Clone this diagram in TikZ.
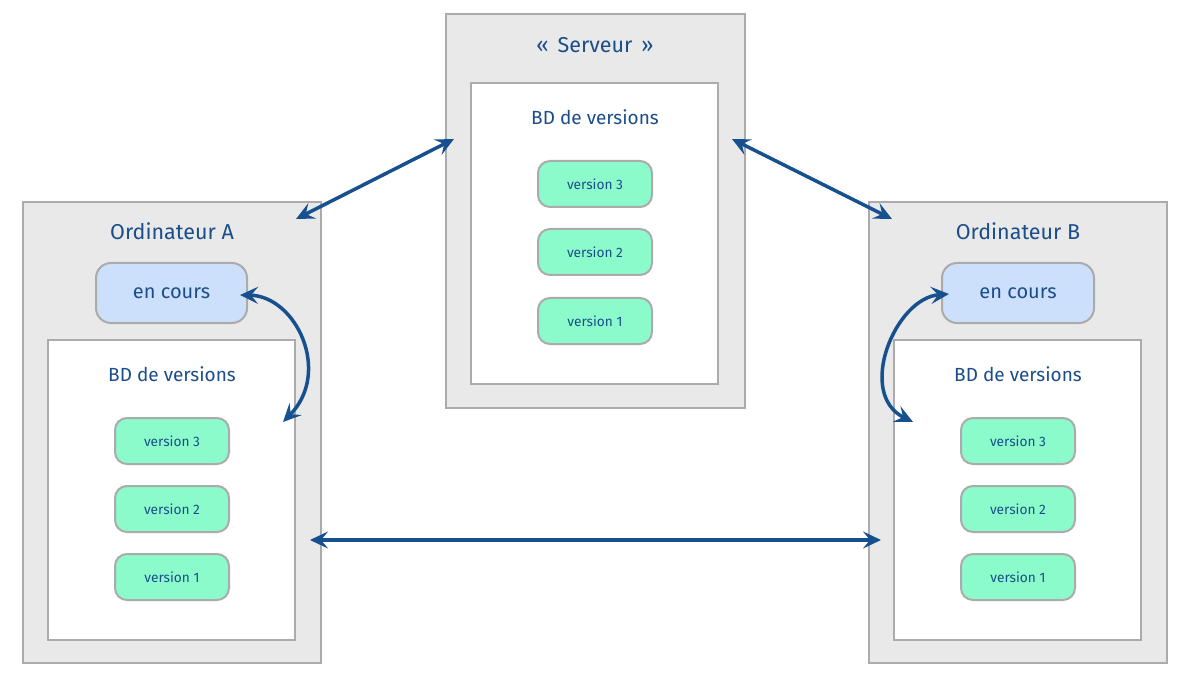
\documentclass[tikz,border=0pt]{standalone}
\usepackage{fontspec}
\setmainfont{Fira Sans}
\usetikzlibrary{arrows.meta}
\definecolor{bleutexte}{HTML}{1B4D8A}
\definecolor{bleufleche}{HTML}{17508F}
\definecolor{grisboite}{HTML}{E9E9E9}
\definecolor{grisbord}{HTML}{ABABAB}
\definecolor{vertversion}{HTML}{8CFBCB}
\definecolor{bleucours}{HTML}{CCE0FB}

\begin{document}
\begin{tikzpicture}[x=1pt, y=-1pt,
  poste/.style={draw=grisbord, fill=grisboite, line width=2pt, inner sep=0pt},
  base/.style={draw=grisbord, fill=white, line width=2pt, inner sep=0pt,
    minimum width=247pt, minimum height=300pt},
  version/.style={draw=grisbord, fill=vertversion, line width=2pt, rounded corners=12pt,
    minimum width=114pt, minimum height=46pt, text=bleutexte, font=\fontsize{13.7}{16}\selectfont},
  encours/.style={draw=grisbord, fill=bleucours, line width=2pt, rounded corners=15pt,
    minimum width=151pt, minimum height=60pt, text=bleutexte, font=\fontsize{20}{24}\selectfont},
  titre/.style={text=bleutexte, font=\fontsize{21.5}{26}\selectfont},
  soustitre/.style={text=bleutexte, font=\fontsize{19}{22}\selectfont},
  lien/.style={bleufleche, line width=3.5pt,
    {Stealth[length=18pt,width=17pt,inset=7pt]}-{Stealth[length=18pt,width=17pt,inset=7pt]}}
]
  \useasboundingbox (0,0) rectangle (1191,676);

  % Serveur
  \node[poste, minimum width=299pt, minimum height=394pt] (serveur) at (595.5,211) {};
  \node[titre] (titreS) at (595,45) {«\hspace{9pt}Serveur\hspace{9pt}»};
  \node[base, minimum height=301pt] (baseS) at (594.5,233.5) {};
  \node[soustitre] (bdS) at (595,117) {BD de versions};
  \foreach \v/\y in {3/184, 2/252, 1/321} {
    \node[version] (versS\v) at (595,\y) {version \v};
  }

  % Ordinateur A
  \node[poste, minimum width=298pt, minimum height=461pt] (ordA) at (172,432.5) {};
  \node[titre] (titreA) at (172,231) {Ordinateur A};
  \node[encours] (coursA) at (171.5,293) {en cours};
  \node[base] (baseA) at (171.5,490) {};
  \node[soustitre] (bdA) at (172,374) {BD de versions};
  \foreach \v/\y in {3/441, 2/509, 1/577} {
    \node[version] (versA\v) at (172,\y) {version \v};
  }

  % Ordinateur B
  \node[poste, minimum width=298pt, minimum height=461pt] (ordB) at (1018,432.5) {};
  \node[titre] (titreB) at (1018,231) {Ordinateur B};
  \node[encours, minimum width=152pt] (coursB) at (1018,293) {en cours};
  \node[base] (baseB) at (1017.5,490) {};
  \node[soustitre] (bdB) at (1018,374) {BD de versions};
  \foreach \v/\y in {3/441, 2/509, 1/577} {
    \node[version] (versB\v) at (1018,\y) {version \v};
  }

  % Extrémités des flèches
  \coordinate (pAS) at (296,219);
  \coordinate (pSA) at (454,139);
  \coordinate (pSB) at (732,139);
  \coordinate (pBS) at (892,219);
  \coordinate (pcA) at (240,295);
  \coordinate (pbA) at (283,422);
  \coordinate (pcB) at (949,294);
  \coordinate (pbB) at (913,422);
  \coordinate (pAB) at (310,540);
  \coordinate (pBA) at (881,540);

  % Échanges
  \draw[lien] (pAS) -- (pSA);
  \draw[lien] (pSB) -- (pBS);
  \draw[lien] (pcA) .. controls (296,296) and (332,372) .. (pbA);
  \draw[lien] (pcB) .. controls (895,298) and (856,394) .. (pbB);
  \draw[lien] (pAB) -- (pBA);
\end{tikzpicture}
\end{document}
